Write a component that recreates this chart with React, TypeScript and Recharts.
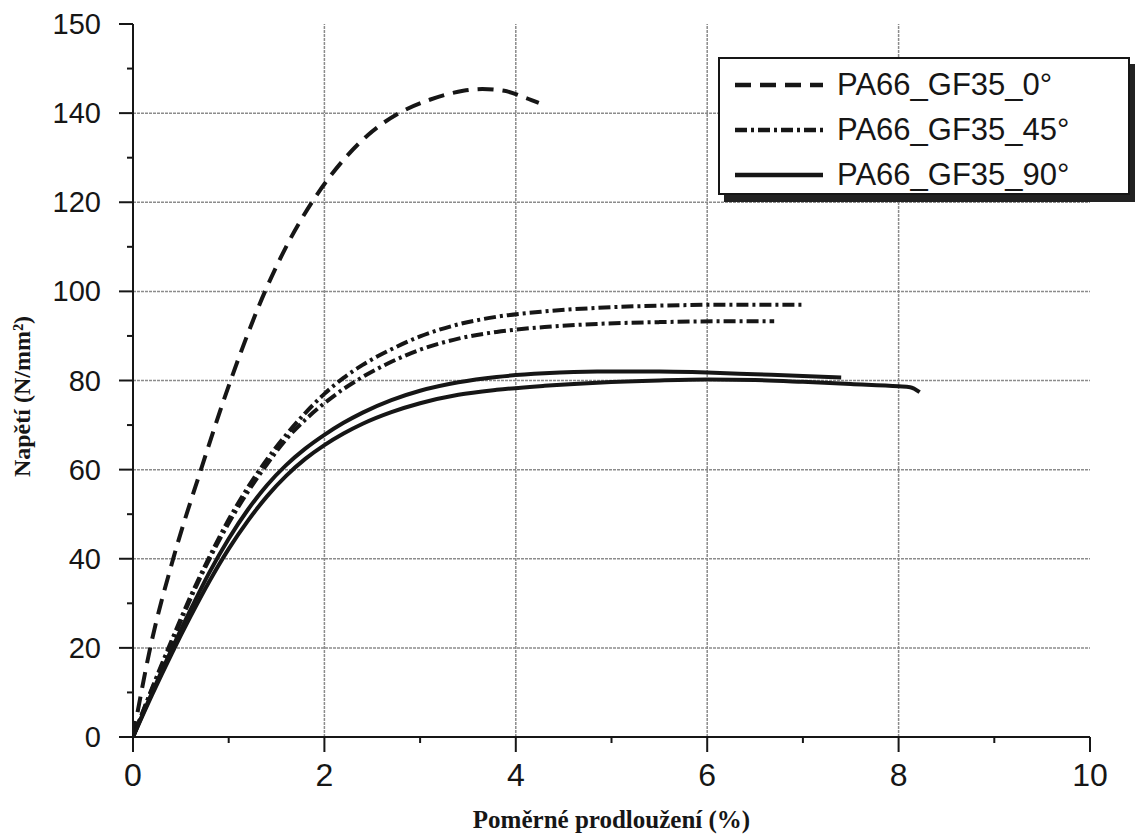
import React from 'react';
import { LineChart, Line, XAxis, YAxis, ReferenceLine, Label } from 'recharts';

// strain (%) / stress (N/mm2)
const strain0 = [0, 0.18, 0.42, 0.71, 1.02, 1.38, 1.6, 1.87, 2.22, 2.45, 2.78, 3.1, 3.45, 3.65, 3.88, 4.08, 4.24];
const stress0 = [0, 20, 40, 60, 80, 100, 110, 120, 130, 135, 140, 143, 145, 145.4, 145, 143.6, 142.3];

const strain45a = [0, 0.2, 0.4, 0.6, 0.8, 1.0, 1.2, 1.4, 1.6, 1.8, 2.0, 2.2, 2.4, 2.7, 3.0, 3.4, 3.8, 4.3, 4.85, 5.5, 6.2, 7.0];
const stress45a = [0, 11, 21.5, 31.5, 40.5, 48.8, 56, 62.3, 67.8, 72.7, 77, 80.6, 83.5, 87, 89.9, 92.6, 94.3, 95.5, 96.3, 96.8, 97, 97];

const strain45b = [0, 0.2, 0.4, 0.6, 0.8, 1.0, 1.2, 1.4, 1.6, 1.8, 2.0, 2.2, 2.4, 2.7, 3.0, 3.4, 3.8, 4.3, 4.85, 5.5, 6.2, 6.7];
const stress45b = [0, 10.8, 21, 31, 40, 48, 55, 61.2, 66.8, 71.2, 74.9, 78.1, 80.8, 84.2, 86.9, 89.4, 90.9, 92, 92.7, 93.1, 93.3, 93.3];

const strain90a = [0, 0.2, 0.4, 0.6, 0.8, 1.0, 1.2, 1.4, 1.6, 1.8, 2.0, 2.2, 2.4, 2.7, 3.0, 3.4, 3.8, 4.3, 4.85, 5.5, 6.0, 6.5, 7.0, 7.4];
const stress90a = [0, 10, 19.5, 28.5, 37, 44.5, 51, 56.5, 61, 64.7, 67.8, 70.5, 72.8, 75.6, 77.7, 79.6, 80.8, 81.6, 82, 82, 81.8, 81.4, 81, 80.7];

const strain90b = [0, 0.2, 0.4, 0.6, 0.8, 1.0, 1.2, 1.4, 1.6, 1.8, 2.0, 2.2, 2.4, 2.7, 3.0, 3.4, 3.8, 4.3, 4.85, 5.5, 6.0, 6.5, 7.0, 7.5, 8.0, 8.12, 8.22];
const stress90b = [0, 9.5, 18.5, 27, 35, 42.2, 48.5, 54, 58.6, 62.4, 65.5, 68.1, 70.3, 72.9, 74.9, 76.8, 77.9, 78.8, 79.5, 80, 80.2, 80.1, 79.7, 79.2, 78.7, 78.5, 77.4];

const xTicks = [0, 1, 2, 3, 4, 5, 6, 7, 8, 9, 10];
const yTicks = [0, 10, 20, 30, 40, 50, 60, 70, 80, 90, 100, 110, 120, 130, 140, 150, 160];
// the scan prints "150" where the next major step (160) sits
const yTickLabels: Record<number, string> = { 0: '0', 20: '20', 40: '40', 60: '60', 80: '80', 100: '100', 120: '120', 140: '140', 160: '150' };
const gridX = [2, 4, 6, 8];
const gridY = [20, 40, 60, 80, 100, 120, 140];

const DASHED = '16 9';
const DASHDOT = '12 4 3 4';

const legendItems = [
  { name: 'PA66_GF35_0°', dash: DASHED },
  { name: 'PA66_GF35_45°', dash: DASHDOT },
  { name: 'PA66_GF35_90°', dash: '' },
];

const toPoints = (xs: number[], ys: number[]) => xs.map((x, i) => ({ x, y: ys[i] }));

const INK = '#161616';
const GRID = '#8c8c8c';
const SANS = '"Liberation Sans", Arial, sans-serif';
const SERIF = '"Liberation Serif", "Times New Roman", serif';

const XTick = (props: any) => {
  const { x, y, payload } = props;
  const major = payload.value % 2 === 0;
  return (
    <g>
      <line x1={x} y1={y} x2={x} y2={y + (major ? 15 : 6)} stroke={INK} strokeWidth={2} />
      {major && (
        <text x={x} y={y + 49} textAnchor="middle" fontSize={32} fontFamily={SANS} fill={INK}>
          {payload.value}
        </text>
      )}
    </g>
  );
};

const YTick = (props: any) => {
  const { x, y, payload } = props;
  const label = yTickLabels[payload.value];
  return (
    <g>
      <line x1={x - (label ? 14 : 6)} y1={y} x2={x} y2={y} stroke={INK} strokeWidth={2} />
      {label && (
        <text x={x - 32} y={y + 10} textAnchor="end" fontSize={29} fontFamily={SANS} fill={INK}>
          {label}
        </text>
      )}
    </g>
  );
};

const YTitle = (props: any) => {
  const { viewBox } = props;
  const cx = viewBox.x + 22;
  const cy = viewBox.y + viewBox.height / 2 + 16;
  return (
    <text
      x={cx}
      y={cy}
      transform={`rotate(-90 ${cx} ${cy})`}
      textAnchor="middle"
      dominantBaseline="central"
      fontSize={24}
      fontWeight="bold"
      fontFamily={SERIF}
      fill={INK}
    >
      Napětí (N/mm²)
    </text>
  );
};

const LegendBox = () => (
  <div
    style={{
      position: 'absolute',
      left: 718,
      top: 57,
      width: 408,
      height: 134,
      border: `2px solid ${INK}`,
      boxShadow: '6px 7px 0 #222',
      background: '#fff',
      fontFamily: SANS,
    }}
  >
    {legendItems.map((item, i) => (
      <div key={item.name} style={{ position: 'absolute', left: 13, top: 8 + i * 45, height: 36, display: 'flex', alignItems: 'center' }}>
        <svg width={92} height={36}>
          <line x1={2} y1={18} x2={90} y2={18} stroke={INK} strokeWidth={4.5} strokeDasharray={item.dash || undefined} />
        </svg>
        <span style={{ marginLeft: 12, fontSize: 31, color: INK, lineHeight: '36px' }}>{item.name}</span>
      </div>
    ))}
  </div>
);

export default function App() {
  const series = [
    { key: 's0', data: toPoints(strain0, stress0), dash: DASHED },
    { key: 's45a', data: toPoints(strain45a, stress45a), dash: DASHDOT },
    { key: 's45b', data: toPoints(strain45b, stress45b), dash: DASHDOT },
    { key: 's90a', data: toPoints(strain90a, stress90a), dash: undefined },
    { key: 's90b', data: toPoints(strain90b, stress90b), dash: undefined },
  ];

  return (
    <div style={{ position: 'absolute', left: 0, top: 0, width: 1135, height: 838, background: '#fff' }}>
      <LineChart width={1135} height={838} margin={{ top: 24, right: 45, bottom: 0, left: 0 }}>
        <XAxis
          type="number"
          dataKey="x"
          domain={[0, 10]}
          ticks={xTicks}
          interval={0}
          height={101}
          tickSize={0}
          tickMargin={0}
          tick={<XTick />}
          axisLine={{ stroke: INK, strokeWidth: 2 }}
          allowDataOverflow
        >
          <Label
            value="Poměrné prodloužení (%)"
            position="insideBottom"
            offset={10}
            style={{ fontSize: 25, fontWeight: 'bold', fontFamily: SERIF, fill: INK }}
          />
        </XAxis>
        <YAxis
          type="number"
          domain={[0, 160]}
          ticks={yTicks}
          interval={0}
          width={133}
          tickSize={0}
          tickMargin={0}
          tick={<YTick />}
          axisLine={{ stroke: INK, strokeWidth: 2 }}
          allowDataOverflow
        >
          <Label content={<YTitle />} />
        </YAxis>

        {gridX.map((v) => (
          <ReferenceLine key={`gx${v}`} x={v} stroke={GRID} strokeWidth={1.5} strokeDasharray="3 1" />
        ))}
        {gridY.map((v) => (
          <ReferenceLine key={`gy${v}`} y={v} stroke={GRID} strokeWidth={1.5} strokeDasharray="3 1" />
        ))}

        {series.map((s) => (
          <Line
            key={s.key}
            data={s.data}
            dataKey="y"
            type="monotone"
            stroke={INK}
            strokeWidth={4}
            strokeDasharray={s.dash}
            dot={false}
            activeDot={false}
            isAnimationActive={false}
          />
        ))}
      </LineChart>
      <LegendBox />
    </div>
  );
}
